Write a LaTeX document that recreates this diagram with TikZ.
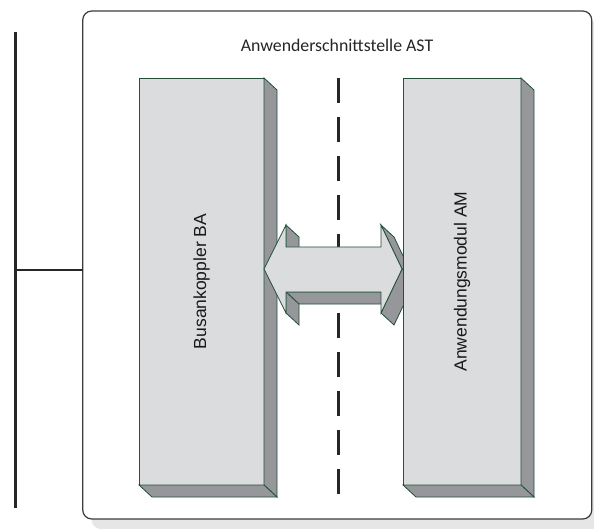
\documentclass[tikz,border=0pt]{standalone}
\usepackage{fontspec}
\setmainfont{Liberation Sans}
\newfontfamily\calibri{Carlito}
\usetikzlibrary{shadows}
\definecolor{frontgray}{RGB}{219,220,222}
\definecolor{sidegray}{RGB}{150,151,154}
\definecolor{edgegreen}{RGB}{35,80,55}
\definecolor{shadowgray}{RGB}{230,230,230}
\definecolor{framegray}{RGB}{60,60,60}

\begin{document}
\begin{tikzpicture}[x=1pt, y=-1pt]
    \useasboundingbox (0,0) rectangle (594,529);

    % 外枠
    \node[draw=framegray, line width=1.2pt, rounded corners=9pt, fill=white, minimum width=509pt, minimum height=508pt, inner sep=0pt, outer sep=0pt, drop shadow={shadow xshift=9pt, shadow yshift=-10pt, fill=shadowgray, opacity=1}] (AST) at (337.25, 265) {};
    \node[font=\calibri\fontsize{17.8}{21}\selectfont, text=black!85] (title) at (337, 45) {Anwenderschnittstelle AST};

    % バス
    \coordinate (busTop) at (15, 32);
    \coordinate (busBottom) at (15, 508);
    \coordinate (busTap) at (15, 270);
    \draw[line width=3pt, black!85] (busTop) -- (busBottom);
    \draw[line width=2.5pt, black!85] (busTap) -- (busTap -| AST.west);

    % 破線
    \coordinate (sepTop) at (338, 78);
    \coordinate (sepBottom) at (338, 494);
    \draw[line width=3pt, black!85, dash pattern=on 25pt off 14.1pt] (sepTop) -- (sepBottom);

    % 左ブロック
    \node[draw=edgegreen, fill=frontgray, line width=0.8pt, minimum width=125pt, minimum height=407pt, inner sep=0pt, outer sep=0pt] (BA) at (201.5, 281.5) {};
    \filldraw[fill=sidegray, draw=edgegreen, line width=0.8pt] (BA.north east) -- ([shift={(13,12)}]BA.north east) -- ([shift={(13,12)}]BA.south east) -- (BA.south east) -- cycle;
    \filldraw[fill=sidegray, draw=edgegreen, line width=0.8pt] (BA.south west) -- (BA.south east) -- ([shift={(13,12)}]BA.south east) -- ([shift={(13,12)}]BA.south west) -- cycle;
    \node[rotate=90, font=\fontsize{17.5}{21}\selectfont, text=black!90] (BAlabel) at (BA.center) {Busankoppler BA};

    % 双方向矢印
    \filldraw[fill=sidegray, draw=edgegreen, line width=0.8pt] (286,292) -- (381,292) -- (394,304) -- (299,304) -- cycle;
    \filldraw[fill=sidegray, draw=edgegreen, line width=0.8pt] (286,292) -- (299,304) -- (299,325) -- (286,313) -- cycle;
    \filldraw[fill=sidegray, draw=edgegreen, line width=0.8pt] (286,225) -- (299,237) -- (299,259) -- (286,247) -- cycle;
    \filldraw[fill=sidegray, draw=edgegreen, line width=0.8pt] (381,225) -- (394,237) -- (415,281) -- (402,269) -- cycle;
    \filldraw[fill=sidegray, draw=edgegreen, line width=0.8pt] (402,269) -- (415,281) -- (394,325) -- (381,313) -- cycle;
    \filldraw[fill=frontgray, draw=edgegreen, line width=0.8pt] (264,269) -- (286,225) -- (286,247) -- (381,247) -- (381,225) -- (402,269) -- (381,313) -- (381,292) -- (286,292) -- (286,313) -- cycle;

    % 右ブロック
    \node[draw=edgegreen, fill=frontgray, line width=0.8pt, minimum width=118pt, minimum height=407pt, inner sep=0pt, outer sep=0pt] (AM) at (462, 281.5) {};
    \filldraw[fill=sidegray, draw=edgegreen, line width=0.8pt] (AM.north east) -- ([shift={(13,12)}]AM.north east) -- ([shift={(13,12)}]AM.south east) -- (AM.south east) -- cycle;
    \filldraw[fill=sidegray, draw=edgegreen, line width=0.8pt] (AM.south west) -- (AM.south east) -- ([shift={(13,12)}]AM.south east) -- ([shift={(13,12)}]AM.south west) -- cycle;
    \node[rotate=90, font=\fontsize{17.5}{21}\selectfont, text=black!90] (AMlabel) at (AM.center) {Anwendungsmodul AM};

\end{tikzpicture}
\end{document}
